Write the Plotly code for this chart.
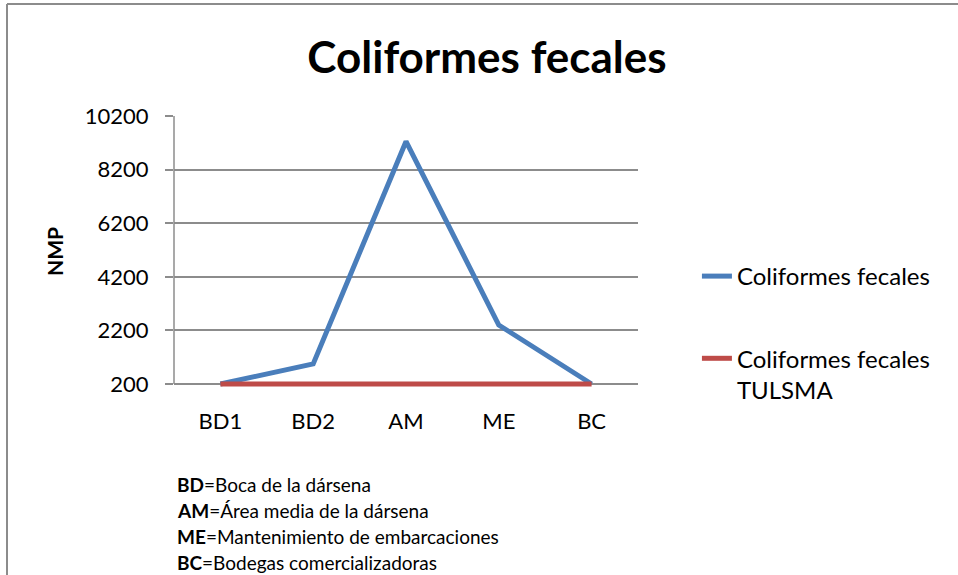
import plotly.graph_objects as go

categories = ["BD1", "BD2", "AM", "ME", "BC"]
coliformes = [200, 950, 9250, 2400, 200]
tulsma = [200, 200, 200, 200, 200]
y_ticks = [200, 2200, 4200, 6200, 8200, 10200]
notes = [("BD", "Boca de la dársena"),
         ("AM", "Área media de la dársena"),
         ("ME", "Mantenimiento de embarcaciones"),
         ("BC", "Bodegas comercializadoras")]

FONT = "Lato"
W, H = 958, 575
L, R, T, B = 174, 320, 116, 188
PW = W - L - R
plot_h = H - T - B
Y_LO = 200 - 3 / 0.0268
Y_HI = 10200

def py(pixel_y):
    return (H - B - pixel_y) / plot_h

fig = go.Figure()
fig.add_trace(go.Scatter(x=categories, y=coliformes, mode="lines", name="Coliformes fecales",
                         line=dict(color="#4A7EBB", width=5), legendgroup="a"))
fig.add_trace(go.Scatter(x=categories, y=tulsma, mode="lines", name="Coliformes fecales<br>TULSMA",
                         line=dict(color="#BE4B48", width=5), legendgroup="b"))

for i, (ab, txt) in enumerate(notes):
    fig.add_annotation(xref="paper", yref="paper", x=(175 - L) / PW, y=py([484, 510, 536, 562][i]),
                       xanchor="left", yanchor="middle", showarrow=False,
                       text=f"<b>{ab}</b>={txt}", font=dict(family=FONT, size=19, color="black"))

fig.update_layout(
    width=W, height=H,
    margin=dict(l=L, r=R, t=T, b=B),
    paper_bgcolor="white", plot_bgcolor="white",
    font=dict(family=FONT, color="black"),
    title=dict(text="<b>Coliformes fecales</b>", x=487 / W, xref="container", xanchor="center",
               y=1 - 58 / H, yref="container", yanchor="middle",
               font=dict(family=FONT, size=44, color="black")),
    showlegend=True,
    legend=dict(x=1.127, xanchor="left", y=py(254), yanchor="top", traceorder="grouped",
                tracegroupgap=48, valign="top", font=dict(family=FONT, size=24, color="black"),
                bgcolor="rgba(0,0,0,0)"),
    shapes=[
        dict(type="line", xref="paper", yref="paper", x0=-(L - 7) / PW, x1=(W - L) / PW + 0.01,
             y0=py(4), y1=py(4), line=dict(color="#8C8C8C", width=2)),
        dict(type="line", xref="paper", yref="paper", x0=-(L - 7) / PW, x1=-(L - 7) / PW,
             y0=py(4), y1=py(H + 5), line=dict(color="#8C8C8C", width=2)),
        dict(type="line", xref="paper", yref="y", x0=0, x1=0, y0=200, y1=10200,
             line=dict(color="#8C8C8C", width=1.5), layer="below"),
    ],
)
fig.update_xaxes(type="category", range=[-0.5, 4.5], showgrid=False, showline=False,
                 ticks="", tickfont=dict(family=FONT, size=22, color="black"),
                 ticklabelstandoff=19, zeroline=False)
fig.update_yaxes(range=[Y_LO, Y_HI], tickvals=y_ticks, ticktext=[str(v) for v in y_ticks],
                 showgrid=True, gridcolor="#8C8C8C",
                 gridwidth=1.5, showline=False,
                 ticks="outside", ticklen=8, tickcolor="#8C8C8C", tickwidth=1.5,
                 ticklabelstandoff=12, tickfont=dict(family=FONT, size=22, color="black"),
                 zeroline=False,
                 title=dict(text="<b>NMP</b>", standoff=15, font=dict(family=FONT, size=21, color="black")))

fig.write_html("out.html", config={"displayModeBar": False},
               post_script="document.body.style.margin='0';")
